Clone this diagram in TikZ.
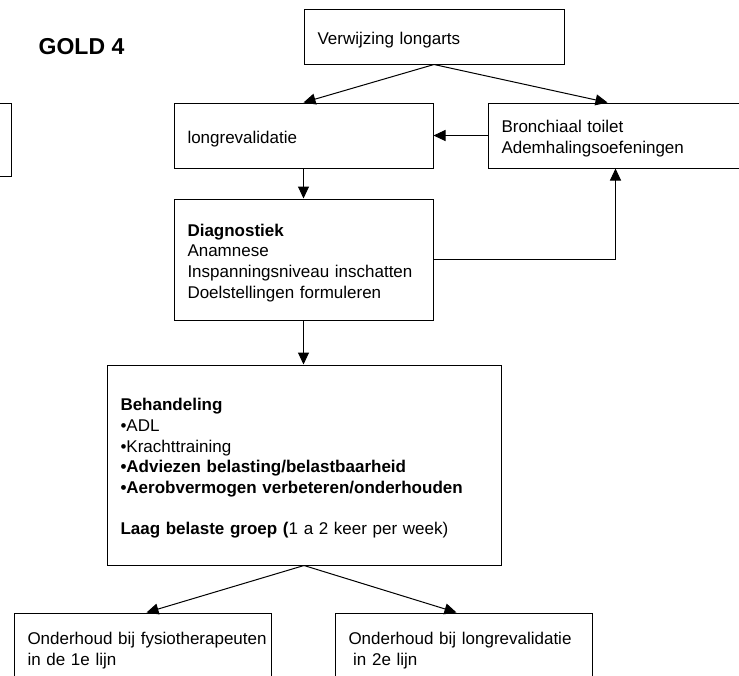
\documentclass[tikz,border=0pt]{standalone}
\usepackage{fontspec}
\setmainfont{Liberation Sans}
\usetikzlibrary{arrows.meta}
\newcommand{\firstline}{\rule{0pt}{19pt}}
\begin{document}
\begin{tikzpicture}[x=1pt,y=-1pt,
  every node/.style={font=\fontsize{17}{20.6}\selectfont},
  box/.style={draw, line width=1pt, rectangle, inner ysep=0pt, inner xsep=13.5pt,
    align=left, anchor=center},
  arr/.style={line width=1pt, -{Triangle[length=12pt,width=11pt]}}
]
\useasboundingbox (0,0) rectangle (739,675);
\begin{scope}
\clip (0,0) rectangle (739,675);

% title
\node[font=\fontsize{23}{27}\selectfont\bfseries] (gold) at (81.5,46.5) {GOLD 4};

% box partly outside the left edge
\node[draw, line width=1pt, minimum width=80pt, minimum height=73pt] (side) at (-29,139.5) {};

% flow boxes
\node[box, text width=233pt, minimum width=260pt, minimum height=55pt] (verw) at (434,36.5)
  {\firstline Verwijzing longarts};
\node[box, text width=232pt, minimum width=259pt, minimum height=65pt] (longr) at (303.5,135.5)
  {\firstline longrevalidatie};
\node[box, text width=245pt, minimum width=272pt, minimum height=65pt] (bronch) at (624,135.5)
  {\firstline Bronchiaal toilet\\Ademhalingsoefeningen};
\node[box, text width=232pt, minimum width=259pt, minimum height=121pt] (diag) at (303.5,259.5)
  {\firstline\textbf{Diagnostiek}\\Anamnese\\Inspanningsniveau inschatten\\Doelstellingen formuleren};
\node[box, text width=367pt, minimum width=394pt, minimum height=200pt] (beh) at (304,465)
  {\firstline\textbf{Behandeling}\\
   •ADL\\
   •Krachttraining\\
   \textbf{•Adviezen belasting/belastbaarheid}\\
   \textbf{•Aerobvermogen verbeteren/onderhouden}\\[20.6pt]
   \textbf{Laag belaste groep (}1 a 2 keer per week)};
\node[box, text width=230pt, minimum width=257pt, minimum height=69pt] (onder1) at (142.5,647.5)
  {\firstline\mbox{Onderhoud bij fysiotherapeuten}\\in de 1e lijn};
\node[box, text width=230pt, minimum width=257pt, minimum height=69pt] (onder2) at (463.5,647.5)
  {\firstline\mbox{Onderhoud bij longrevalidatie}\\\hspace*{4.7pt}in 2e lijn};

% connectors
\draw[arr] (verw.south) -- (longr.north);
\draw[arr] (verw.south) -- ([xshift=120pt]bronch.north west);
\draw[arr] (bronch.west) -- (longr.east);
\draw[arr] (longr.south) -- (diag.north);
\draw[arr] (diag.east) -| ([xshift=128pt]bronch.south west);
\draw[arr] (diag.south) -- (diag.south |- beh.north);
\draw[arr] (beh.south) -- ([xshift=133pt]onder1.north west);
\draw[arr] (beh.south) -- ([xshift=122pt]onder2.north west);
\end{scope}
\end{tikzpicture}
\end{document}
